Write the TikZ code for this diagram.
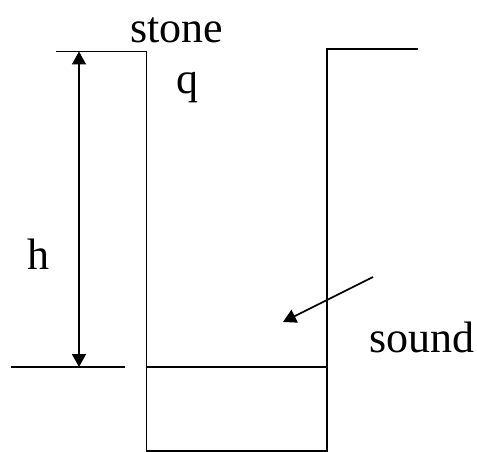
\documentclass[tikz,border=0pt]{standalone}
\usepackage{fontspec}
\setmainfont{Liberation Serif}
\usetikzlibrary{arrows.meta}

\begin{document}
\begin{tikzpicture}[x=1pt, y=-1pt, line width=1.6pt, every node/.style={font=\fontsize{44}{50}\selectfont, inner sep=0pt}]
\tikzstyle{tri}=[-{Triangle[length=13pt,width=14pt]}]
\tikzstyle{dim}=[{Triangle[length=13pt,width=14pt]}-{Triangle[length=13pt,width=14pt]}]
\useasboundingbox (0,0) rectangle (477,452);
% well outline
\coordinate (tl) at (56,51.5);
\coordinate (lt) at (146.5,51.5);
\coordinate (lb) at (146.5,451);
\coordinate (rb) at (327,451);
\coordinate (rt) at (327,49);
\coordinate (tr) at (418,49);
\draw (tl)--(lt)--(lb)--(rb)--(rt)--(tr);
% bottom levels
\coordinate (wl) at (146.5,367);
\coordinate (wr) at (327,367);
\coordinate (gl) at (11,367);
\coordinate (gr) at (125,367);
\draw (wl)--(wr); \draw (gl)--(gr);
% height
\coordinate (ht) at (79,51.5);
\coordinate (hb) at (79,367);
\draw[dim] (ht)--(hb);
\node[anchor=base] (h) at (38.5,269) {h};
% labels
\node[anchor=base] (s) at (177,43) {stone};
\node[anchor=base] (q) at (187,94) {q};
\node[anchor=base] (snd) at (422,352) {sound};
\coordinate (a0) at (373,277);
\coordinate (a1) at (283,322);
\draw[tri] (a0)--(a1);
\end{tikzpicture}
\end{document}
